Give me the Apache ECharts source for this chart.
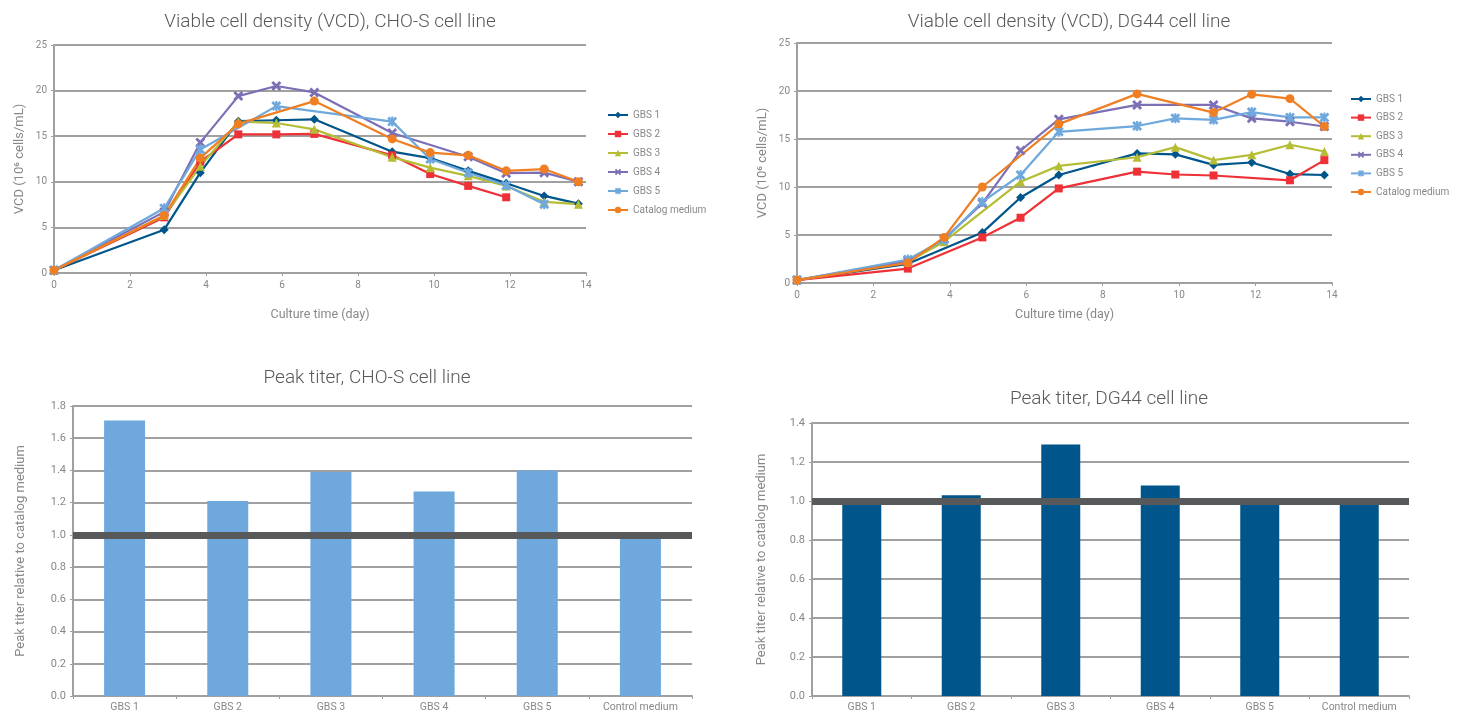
<!DOCTYPE html>
<html>
<head>
<meta charset="utf-8">
<script src="https://cdn.jsdelivr.net/npm/echarts@6/dist/echarts.min.js"></script>
<style>
html,body{margin:0;padding:0;background:#fff;}
#c{width:1460px;height:714px;}
</style>
</head>
<body>
<div id="c"></div>
<script>
// ---------- DATA ----------
const days = [0, 2.9, 3.85, 4.85, 5.85, 6.85, 8.9, 9.9, 10.9, 11.9, 12.9, 13.8];
const seriesNames = ['GBS 1', 'GBS 2', 'GBS 3', 'GBS 4', 'GBS 5', 'Catalog medium'];

// VCD CHO-S (10^6 cells/mL)
const choGBS1 = [0.3, 4.75, 11.0, 16.65, 16.75, 16.85, 13.3, 12.6, 11.2, 9.85, 8.45, 7.6];
const choGBS2 = [0.3, 6.1, 12.2, 15.2, 15.2, 15.25, 12.9, 10.85, 9.55, 8.3, null, null];
const choGBS3 = [0.3, 6.3, 11.7, 16.6, 16.45, 15.75, 12.7, 11.55, 10.65, 9.55, 7.8, 7.55];
const choGBS4 = [0.3, 6.7, 14.3, 19.4, 20.5, 19.8, 15.35, null, 12.75, 10.95, 11.0, 10.0];
const choGBS5 = [0.3, 7.1, 13.55, null, 18.3, null, 16.6, 12.5, 11.0, 9.6, 7.55, null];
const choCatalog = [0.3, 6.3, 12.6, 16.35, null, 18.85, 14.7, 13.2, 12.9, 11.2, 11.4, 10.0];

// VCD DG44 (10^6 cells/mL)
const dgGBS1 = [0.3, 2.0, null, 5.25, 8.9, 11.25, 13.5, 13.4, 12.3, 12.55, 11.35, 11.25];
const dgGBS2 = [0.3, 1.5, null, 4.75, 6.8, 9.85, 11.6, 11.3, 11.2, null, 10.7, 12.8];
const dgGBS3 = [0.3, 2.2, 4.3, null, 10.55, 12.2, 13.1, 14.15, 12.8, 13.35, 14.4, 13.7];
const dgGBS4 = [0.3, 2.3, 4.6, 8.3, 13.8, 17.05, 18.55, null, 18.55, 17.15, 16.8, 16.3];
const dgGBS5 = [0.3, 2.45, 4.5, 8.45, 11.25, 15.75, 16.35, 17.15, 17.0, 17.8, 17.25, 17.25];
const dgCatalog = [0.3, 2.1, 4.75, 10.0, null, 16.55, 19.7, null, 17.75, 19.65, 19.2, 16.3];

// Peak titer relative to catalog medium
const barCategories = ['GBS 1', 'GBS 2', 'GBS 3', 'GBS 4', 'GBS 5', 'Control medium'];
const titerCHO = [1.71, 1.21, 1.39, 1.27, 1.40, 1.0];
const titerDG44 = [0.99, 1.03, 1.29, 1.08, 0.99, 1.0];
const refLevel = 1.0;

// ---------- STYLE ----------
const colors = ['#00558b', '#ee3137', '#b5bd35', '#7c6fb5', '#6fa8dc', '#f07f23'];
const xPath = 'path://M0,2 L2,0 L5,3 L8,0 L10,2 L7,5 L10,8 L8,10 L5,7 L2,10 L0,8 L3,5 Z';
const starPath = 'path://M0,2 L2,0 L5,3 L8,0 L10,2 L7,5 L10,8 L8,10 L5,7 L2,10 L0,8 L3,5 Z M4,0 L6,0 L6,10 L4,10 Z';
const symbols = ['diamond', 'rect', 'triangle', xPath, starPath, 'circle'];
const symSizes = [9, 8, 9, 10, 10, 9];
const gridColor = '#a0a0a0';
const labelColor = '#888888';
const titleColor = '#58595b';
const FONT = 'Roboto, "Liberation Sans", sans-serif';

function pairs(arr) { return days.map((d, i) => [d, arr[i]]); }

function lineSeries(dataArrs, axisIdx) {
  return dataArrs.map((arr, i) => ({
    name: seriesNames[i],
    type: 'line',
    xAxisIndex: axisIdx, yAxisIndex: axisIdx,
    data: pairs(arr),
    connectNulls: true,
    symbol: symbols[i],
    symbolSize: symSizes[i],
    showSymbol: true,
    lineStyle: { color: colors[i], width: 2.2 },
    itemStyle: { color: colors[i] },
    emphasis: { disabled: true },
    animation: false
  }));
}

function vcdXAxis(gridIndex, nameGap) {
  return {
    gridIndex, type: 'value', min: 0, max: 14, interval: 2,
    name: 'Culture time (day)', nameLocation: 'middle', nameGap,
    nameTextStyle: { color: labelColor, fontSize: 12.5, fontFamily: FONT },
    axisLine: { show: true, lineStyle: { color: gridColor, width: 2 } },
    axisTick: { show: true, length: 3, lineStyle: { color: gridColor } },
    axisLabel: { color: labelColor, fontSize: 10, fontFamily: FONT, margin: 7 },
    splitLine: { show: false }
  };
}
function vcdYAxis(gridIndex) {
  return {
    gridIndex, type: 'value', min: 0, max: 25, interval: 5,
    name: 'VCD (10\u2076 cells/mL)', nameLocation: 'middle', nameGap: 28,
    nameTextStyle: { color: labelColor, fontSize: 13, fontFamily: FONT },
    axisLine: { show: true, lineStyle: { color: gridColor, width: 2 } },
    axisTick: { show: true, length: 3, lineStyle: { color: gridColor } },
    axisLabel: { color: labelColor, fontSize: 10, fontFamily: FONT, margin: 7 },
    splitLine: { show: true, lineStyle: { color: gridColor, width: 2 } }
  };
}
function barXAxis(gridIndex) {
  return {
    gridIndex, type: 'category', data: barCategories,
    axisLine: { show: true, lineStyle: { color: gridColor, width: 2 } },
    axisTick: { show: true, length: 3, lineStyle: { color: gridColor } },
    axisLabel: { color: labelColor, fontSize: 10.5, fontFamily: FONT, margin: 6 },
    splitLine: { show: false }
  };
}
function barYAxis(gridIndex, max, nameGap) {
  return {
    gridIndex, type: 'value', min: 0, max, interval: 0.2,
    name: 'Peak titer relative to catalog medium', nameLocation: 'middle', nameGap,
    nameTextStyle: { color: labelColor, fontSize: 13, fontFamily: FONT },
    axisLine: { show: true, lineStyle: { color: gridColor, width: 2 } },
    axisTick: { show: true, length: 3, lineStyle: { color: gridColor } },
    axisLabel: { color: labelColor, fontSize: 11, fontFamily: FONT, margin: 7,
                 formatter: v => v.toFixed(1) },
    splitLine: { show: true, lineStyle: { color: gridColor, width: 2 } }
  };
}
function barSeries(data, color, axisIdx, width) {
  return {
    type: 'bar', name: 'titer' + axisIdx,
    xAxisIndex: axisIdx, yAxisIndex: axisIdx,
    data, barWidth: width,
    itemStyle: { color },
    emphasis: { disabled: true },
    animation: false,
    markLine: {
      silent: true, symbol: ['none', 'none'], animation: false,
      label: { show: false },
      lineStyle: { color: '#58595b', width: 7, type: 'solid' },
      data: [{ yAxis: refLevel }]
    }
  };
}
function legend(left, top, gap) {
  return {
    data: seriesNames, orient: 'vertical', left, top, padding: 0,
    itemWidth: 20, itemHeight: 8, itemGap: gap,
    textStyle: { color: labelColor, fontSize: 10, fontFamily: FONT },
    selectedMode: false
  };
}
function title(text, cx, top) {
  return {
    text, left: cx, top, textAlign: 'center',
    textStyle: { color: titleColor, fontSize: 19, fontWeight: 300, fontFamily: FONT }
  };
}

const chart = echarts.init(document.getElementById('c'), null, { renderer: 'canvas' });
chart.setOption({
  animation: false,
  backgroundColor: '#fff',
  title: [
    title('Viable cell density (VCD), CHO-S cell line', 325, 8),
    title('Viable cell density (VCD), DG44 cell line', 1064, 8),
    title('Peak titer, CHO-S cell line', 362, 364),
    title('Peak titer, DG44 cell line', 1104, 385)
  ],
  legend: [legend(607, 110, 9), legend(1350, 94, 8.6)],
  grid: [
    { left: 54, top: 45, width: 532, height: 228 },
    { left: 797, top: 43, width: 535, height: 240 },
    { left: 73, top: 406, width: 619, height: 290 },
    { left: 812, top: 423, width: 597, height: 273 }
  ],
  xAxis: [vcdXAxis(0, 35), vcdXAxis(1, 25), barXAxis(2), barXAxis(3)],
  yAxis: [vcdYAxis(0), vcdYAxis(1), barYAxis(2, 1.8, 46), barYAxis(3, 1.4, 44)],
  series: [
    ...lineSeries([choGBS1, choGBS2, choGBS3, choGBS4, choGBS5, choCatalog], 0),
    ...lineSeries([dgGBS1, dgGBS2, dgGBS3, dgGBS4, dgGBS5, dgCatalog], 1),
    barSeries(titerCHO, '#6fa8dc', 2, 41),
    barSeries(titerDG44, '#00558b', 3, 39)
  ]
});
</script>
</body>
</html>
